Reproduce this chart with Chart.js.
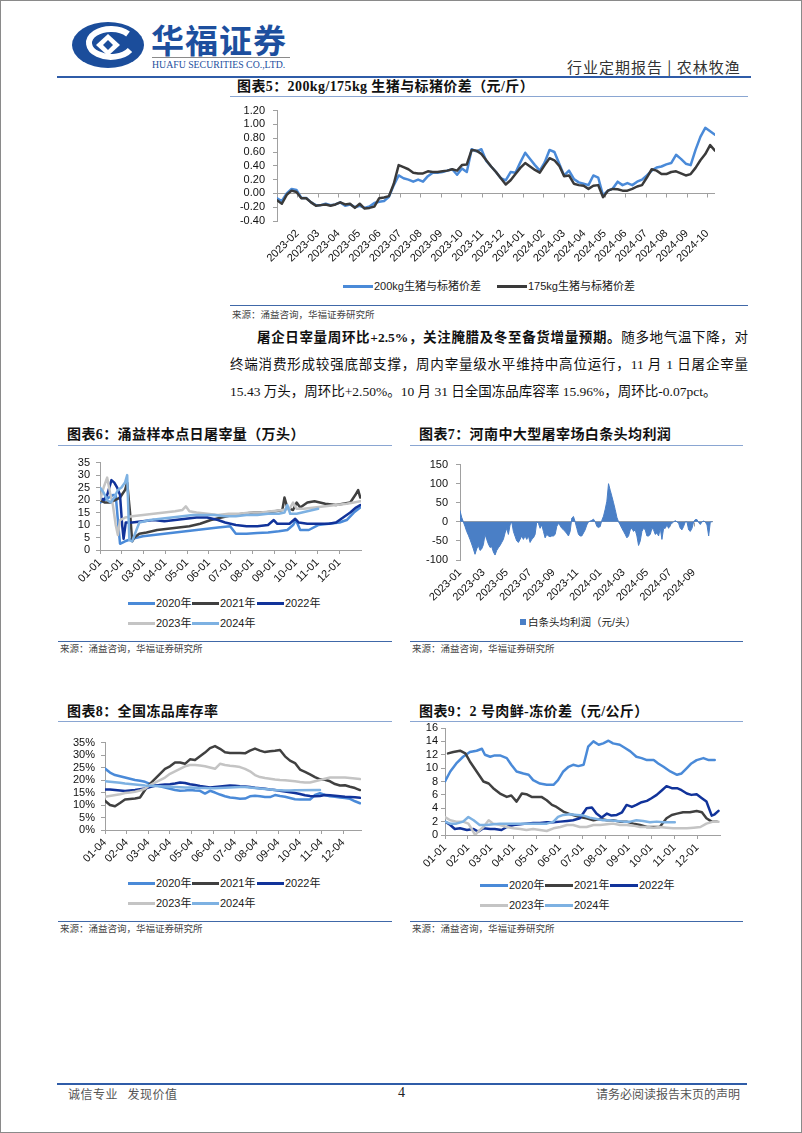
<!DOCTYPE html>
<html lang="zh-CN"><head><meta charset="utf-8"><title>农林牧渔</title>
<script src="https://cdn.jsdelivr.net/npm/chart.js@4.4.1/dist/chart.umd.min.js"></script>
<style>
html,body{margin:0;padding:0;background:#fff}
body{position:relative;width:802px;height:1133px;overflow:hidden;font-family:"Liberation Serif","Noto Sans CJK SC",serif;color:#111}
.a{position:absolute;white-space:nowrap}
.hl{position:absolute;height:0}
.ttl{position:absolute;white-space:nowrap;font-weight:700;font-size:14px;line-height:20px;letter-spacing:0.4px;color:#111}
.src{position:absolute;white-space:nowrap;font-family:"Noto Sans CJK SC",sans-serif;font-size:9.5px;line-height:12px;color:#444}
.lgl{position:absolute;height:3px}
.lgt{position:absolute;white-space:nowrap;font-family:"Liberation Sans","Noto Sans CJK SC",sans-serif;font-size:11px;line-height:14px;color:#222}
canvas{position:absolute}
.p{position:absolute;left:230px;width:518px;white-space:nowrap;font-size:13.5px;line-height:20px;color:#111}
.j{text-align:justify;text-align-last:justify}
</style></head>
<body>
<div style="position:absolute;left:0;top:0;width:800px;height:1131px;border:1px solid #8a8a8a"></div>
<!-- header -->
<svg class="a" width="74" height="48" style="left:71px;top:21px">
 <ellipse cx="37" cy="24" rx="36" ry="23" fill="#1b4d9b"/>
 <path d="M 57 13 A 22 14 0 1 0 59 29" stroke="#fff" stroke-width="6" fill="none"/>
 <path d="M37 13 L49 24 L37 35 L25 24 Z" fill="#fff"/>
 <path d="M37 19 L42 24 L37 29 L32 24 Z" fill="#1b4d9b"/>
</svg>
<div class="a" style="left:151px;top:19px;font-family:'Noto Sans CJK SC';font-weight:700;font-size:33px;line-height:40px;letter-spacing:1px;color:#1d4f9e">华福证券</div>
<div class="hl" style="left:152px;top:57px;width:138px;border-top:1px solid #8a8a8a"></div>
<div class="a" style="left:152px;top:58px;font-family:'Liberation Serif';font-size:11px;line-height:12px;color:#1d4f9e;transform:scaleX(0.89);transform-origin:left">HUAFU SECURITIES CO.,LTD.</div>
<div class="a" style="left:567px;top:57px;font-family:'Noto Sans CJK SC';font-size:15px;line-height:20px;color:#333;letter-spacing:1px">行业定期报告&nbsp;|&nbsp;农林牧渔</div>
<div class="hl" style="left:57px;top:76px;width:694px;border-top:2px solid #2f5ca8"></div>

<!-- chart 5 -->
<div class="ttl" style="left:237px;top:77px">图表5：200kg/175kg 生猪与标猪价差（元/斤）</div>
<div class="hl" style="left:230px;top:96px;width:518px;border-top:1px solid #8aa6d2"></div>
<canvas id="c5" width="520" height="175" style="left:230px;top:96px"></canvas>
<div class="lgl" style="left:343px;top:285px;width:30px;background:#4a8ad8"></div>
<div class="lgt" style="left:374px;top:279px">200kg生猪与标猪价差</div>
<div class="lgl" style="left:497px;top:285px;width:30px;background:#3a3a3a"></div>
<div class="lgt" style="left:528px;top:279px">175kg生猪与标猪价差</div>
<div class="hl" style="left:230px;top:305px;width:518px;border-top:1px solid #4068a8"></div>
<div class="src" style="left:232px;top:308px">来源：涌益咨询，华福证券研究所</div>

<!-- paragraph -->
<div class="p j" style="top:328px;padding-left:27px;width:491px"><b>屠企日宰量周环比+2.5%，关注腌腊及冬至备货增量预期。</b>随多地气温下降，对</div>
<div class="p j" style="top:355px">终端消费形成较强底部支撑，周内宰量级水平维持中高位运行，11 月 1 日屠企宰量</div>
<div class="p" style="top:382px">15.43 万头，周环比+2.50%。10 月 31 日全国冻品库容率 15.96%，周环比-0.07pct。</div>

<!-- chart 6 -->
<div class="ttl" style="left:67px;top:425px">图表6：涌益样本点日屠宰量（万头）</div>
<div class="hl" style="left:58px;top:445px;width:334px;border-top:1px solid #8aa6d2"></div>
<canvas id="c6" width="340" height="145" style="left:40px;top:450px"></canvas>
<div id="lg6"></div>
<!-- chart 7 -->
<div class="ttl" style="left:419px;top:425px">图表7：河南中大型屠宰场白条头均利润</div>
<div class="hl" style="left:410px;top:445px;width:333px;border-top:1px solid #8aa6d2"></div>
<canvas id="c7" width="330" height="155" style="left:410px;top:450px"></canvas>
<div class="a" style="left:520px;top:619px;width:6px;height:6px;background:#4a7fc6"></div>
<div class="lgt" style="left:528px;top:615px;font-size:10.5px">白条头均利润（元/头）</div>
<div class="hl" style="left:58px;top:641px;width:334px;border-top:1px solid #4068a8"></div>
<div class="hl" style="left:410px;top:641px;width:333px;border-top:1px solid #4068a8"></div>
<div class="src" style="left:60px;top:642px">来源：涌益咨询，华福证券研究所</div>
<div class="src" style="left:412px;top:642px">来源：涌益咨询，华福证券研究所</div>

<!-- chart 8 -->
<div class="ttl" style="left:67px;top:702px">图表8：全国冻品库存率</div>
<div class="hl" style="left:58px;top:721px;width:334px;border-top:1px solid #8aa6d2"></div>
<canvas id="c8" width="340" height="140" style="left:40px;top:730px"></canvas>
<div id="lg8"></div>
<!-- chart 9 -->
<div class="ttl" style="left:419px;top:702px">图表9：2 号肉鲜-冻价差（元/公斤）</div>
<div class="hl" style="left:410px;top:721px;width:333px;border-top:1px solid #8aa6d2"></div>
<canvas id="c9" width="330" height="150" style="left:410px;top:718px"></canvas>
<div id="lg9"></div>
<div class="hl" style="left:58px;top:921px;width:334px;border-top:1px solid #4068a8"></div>
<div class="hl" style="left:410px;top:921px;width:333px;border-top:1px solid #4068a8"></div>
<div class="src" style="left:60px;top:922px">来源：涌益咨询，华福证券研究所</div>
<div class="src" style="left:412px;top:922px">来源：涌益咨询，华福证券研究所</div>

<!-- footer -->
<div class="hl" style="left:57px;top:1083px;width:690px;border-top:2px solid #2f5ca8"></div>
<div class="a" style="left:68px;top:1086px;font-family:'Noto Sans CJK SC';font-size:12px;line-height:16px;color:#555;letter-spacing:0.5px">诚信专业&nbsp;&nbsp;&nbsp;发现价值</div>
<div class="a" style="left:398px;top:1085px;font-family:'Liberation Serif';font-size:14px;line-height:16px;color:#222">4</div>
<div class="a" style="left:596px;top:1086px;font-family:'Noto Sans CJK SC';font-size:12px;line-height:16px;color:#555">请务必阅读报告末页的声明</div>

<script>
// ---------------- data ----------------
// Chart 5: weekly spreads (元/斤)
const months5 = ['2023-02','2023-03','2023-04','2023-05','2023-06','2023-07','2023-08','2023-09','2023-10','2023-11','2023-12','2024-01','2024-02','2024-03','2024-04','2024-05','2024-06','2024-07','2024-08','2024-09','2024-10'];
const spread200 = [-0.07,-0.11,0.0,0.065,0.05,-0.065,-0.065,-0.13,-0.17,-0.17,-0.15,-0.17,-0.16,-0.13,-0.18,-0.16,-0.2,-0.18,-0.21,-0.19,-0.14,-0.12,-0.11,-0.05,0.12,0.26,0.22,0.2,0.17,0.2,0.17,0.25,0.3,0.3,0.31,0.33,0.35,0.27,0.36,0.31,0.64,0.61,0.64,0.47,0.39,0.31,0.22,0.19,0.31,0.3,0.45,0.59,0.5,0.41,0.33,0.45,0.63,0.6,0.43,0.26,0.33,0.21,0.16,0.14,0.12,0.26,0.23,-0.03,0.04,0.07,0.17,0.12,0.15,0.12,0.17,0.2,0.26,0.33,0.375,0.39,0.42,0.44,0.56,0.5,0.43,0.41,0.63,0.82,0.95,0.9,0.85];
const spread175 = [-0.1,-0.15,-0.02,0.04,0.02,-0.07,-0.07,-0.13,-0.18,-0.17,-0.16,-0.18,-0.16,-0.13,-0.16,-0.15,-0.21,-0.15,-0.22,-0.21,-0.19,-0.07,-0.06,-0.04,0.14,0.41,0.38,0.35,0.3,0.29,0.29,0.32,0.31,0.31,0.32,0.33,0.35,0.33,0.41,0.42,0.63,0.62,0.57,0.48,0.39,0.31,0.22,0.13,0.19,0.28,0.37,0.44,0.39,0.34,0.3,0.41,0.51,0.48,0.4,0.25,0.26,0.14,0.12,0.11,0.065,0.11,0.12,-0.055,0.04,0.065,0.06,0.04,0.04,0.065,0.1,0.12,0.23,0.35,0.33,0.28,0.28,0.31,0.32,0.29,0.26,0.28,0.37,0.48,0.57,0.7,0.62];

// Chart 6: daily slaughter (万头), day-of-year / value
const monthDays = ['01-01','02-01','03-01','04-01','05-01','06-01','07-01','08-01','09-01','10-01','11-01','12-01'];
const days20 = [0,6,12,18,22,25,28,35,45,60,75,90,105,120,135,150,165,182,190,205,220,235,250,262,270,274,280,292,305,320,335,345,355,364];
const slaughter20 = [19,20,21,22,22,12,2.5,3.5,4.5,5.5,6,6.5,7,7.5,8,8.5,9,9.5,6.5,6.5,6.8,7,7.5,8,10,12,8,8,10,10.5,11,12,15,17];
const days21 = [0,7,14,21,28,35,38,42,45,48,55,65,80,95,110,125,140,155,170,185,200,215,230,245,255,258,262,270,275,280,290,300,315,330,340,350,357,361,364];
const slaughter21 = [20,19,19,20,21,24,27,15,3.5,5,6.5,7,8,8.5,9,9.5,10.5,12,13,14,14.5,15,15,15.5,16,21,17,16,19,17,19,19.5,18.5,18,18.5,19,22,24,21];
const days22 = [0,5,10,16,20,24,28,31,33,36,45,60,75,90,105,120,135,150,165,175,190,205,220,235,243,248,255,265,273,278,290,305,320,330,340,350,358,364];
const slaughter22 = [21,20,22,28,27,25,22,10,4.5,11,11,11.5,12,11.5,12,12.5,13,13,12,11,10,9.5,9.5,10,12,10.5,10.5,10.5,12.5,11,10.5,10.5,10.5,11,13,15,17,18];
const days23 = [0,5,10,14,18,22,25,28,35,45,60,75,90,105,115,120,125,135,150,165,180,195,210,225,240,255,265,270,275,285,300,315,330,345,355,364];
const slaughter23 = [20,25,29,23,18,10,6,12,13,13.5,14,14.5,15,15.5,16,17.5,15.5,15,14.5,14,14.5,14.5,15,15,15.5,16,16.5,19,16.5,16.5,17,17.5,18,18.5,19,19.5];
const days24 = [0,5,10,15,20,25,30,35,38,41,45,55,70,85,100,115,130,145,160,175,190,205,220,235,250,258,262,266,275,290,305];
const slaughter24 = [25,23,20,19,21,24,25,27,30,4,3.5,11,12,12.5,13,13.5,14,14,14,13.5,13.5,14,14,14.5,14.5,15,18,14.5,14.5,15.5,16.5];

// Chart 7: profit per head (元/头), one value per 1/7 month from 2023-01
const months7 = ['2023-01','2023-03','2023-05','2023-07','2023-09','2023-11','2024-01','2024-03','2024-05','2024-07','2024-09'];
const profit = [29,12,0,-12,-25,-35,-46,-58,-71,-85,
 -71,-62,-75,-71,-60,-33,-46,-58,-67,-65,
 -79,-87,-75,-68,-62,-54,-46,-29,-17,-33,
 -8,0,-25,-38,-50,-54,-46,-37,-46,-37,
 -46,-37,-54,-46,-42,-33,0,-4,-17,-8,
 -25,-42,-33,-37,-39,-37,-37,-33,-12,-4,
 -10,-17,-21,-25,-31,-37,-25,10,14,0,
 -17,-33,-37,-37,-29,-21,-8,0,2,4,
 7,0,-12,-15,-12,4,15,33,54,100,
 83,67,50,32,12,0,-8,-17,-25,-33,
 -42,-37,-21,-17,-25,-21,-37,-62,-50,-25,
 -17,-21,-37,-37,-33,-17,-21,-33,-29,-37,
 -17,-46,-17,-17,-8,-17,-8,-4,0,3,
 0,-4,-17,-21,-12,0,0,-21,-25,-17,
 0,6,6,-2,-7,0,2,0,-8,-37,
 0,0];

// Chart 8: weekly frozen inventory rate (%)
const months8 = ['01-04','02-04','03-04','04-04','05-04','06-04','07-04','08-04','09-04','10-04','11-04','12-04'];
const inv2020 = [24.6,23,22,21.5,21,20.5,20,19.7,19.3,18.5,18,17.5,17,16.5,16,15.7,15.8,16,15.8,15.7,14.6,15.7,15,14.2,13.5,13,12.8,12.5,12.6,13.5,13.7,13.5,13.2,13.2,14,13.6,13.3,12.8,12.3,12.2,12.2,12.2,14,14.7,14,13.5,13.3,13,12.8,12.5,11.5,10.7];
const inv2021 = [11.7,10,9.5,10.8,12.2,12.4,12.6,13,16,18.5,20.5,22.5,24.5,25.5,27,27,26.5,28.3,28,29.5,31,32.8,33.6,32.5,31.1,30.8,30.8,30.8,30.7,31.8,32.6,31.8,31.2,31.5,31.7,32,29.5,27.8,26.8,24.2,23.3,22.3,21.2,20.3,20.1,19.5,18.4,17.8,17.9,17.3,16.8,16];
const inv2022 = [16.2,16.2,16,15.8,15.6,15.8,16,16.3,16.6,17.2,17.7,18,18.2,18.3,18.6,19,18.8,18.3,18,17.6,17.3,17,17.2,17.4,17.6,17.8,17.7,17.5,17.4,17.2,16.9,16.7,16.5,16.2,16,15.7,15.4,15.1,14.8,14.4,13.9,13.6,13.5,13.6,14,13.9,13.7,13.5,13.3,13.2,13.1,12.9];
const inv2023 = [13.3,null,null,14.3,14.8,15,15.3,15.8,16.5,18,19,20,21,22.5,23.5,24.5,25.5,26,26,25.8,25.5,25,24.5,26.5,26,25.7,25.5,25.2,24.5,23.5,22,21.2,20.8,20.5,20.2,20,19.9,19.7,19.5,19.2,19,19,19.5,20,20.5,21,21,21,21,20.8,20.6,20.4];
const inv2024 = [19.5,19.3,19.1,18.9,18.6,18.4,18.2,18,17.8,17.7,17.6,17.5,17.4,17.3,17.2,17.1,17,17,16.9,16.8,16.8,16.7,16.7,16.8,16.9,17,17.1,17.2,17.2,17,16.8,16.6,16.4,16.2,16,15.9,15.8,15.8,15.9,null,null,null,null,16.0];

// Chart 9: fresh-frozen spread (元/公斤), day-of-year / value
const d9_2020 = [0,7,15,24,33,42,49,53,60,66,73,82,88,95,104,111,117,126,135,144,150,157,164,170,177,184,190,197,204,210,217,223,232,239,246,254,261,268,277,283,290,299,308,314,321,327,334,343,350,358];
const v9_2020 = [8,9.5,10.7,11.7,12.4,12.6,12.9,12,11.7,11.9,11.9,11.5,10.5,9.5,9.2,9,8.2,7.7,7.5,7.5,8.2,9.5,10.2,10.5,10.3,10.5,13.2,14,13.5,13.7,14.1,13.7,13.5,13,12.5,11.7,11.5,11.2,11.2,10.7,10.2,9.5,9,9.2,10,10.7,11.2,11.5,11.2,11.2];
const d9_2021 = [4,11,20,27,33,42,51,58,64,73,82,88,95,102,108,115,122,128,135,142,148,157,164,170,179,188,197,206,215,223,232,241,250,259,268,277,285,294,301,308,316,325,334,341,347,354,361];
const v9_2021 = [12.2,12.4,12.6,12.2,11,9.5,8,7.7,7,6.2,5.7,5.9,5,6.2,6.1,5.7,5.7,5.7,5.2,4.5,4.2,3.5,3.2,3,2.7,2.5,2.2,2.4,2.2,2.2,2,2,1.7,1.5,1.2,1.2,1.2,2.5,3,3.2,3.4,3.4,3.6,3.4,2.5,2,2];
const d9_2022 = [0,7,13,20,29,38,44,51,60,66,75,82,91,100,108,117,126,135,144,153,162,170,179,188,195,201,208,215,221,228,235,241,248,254,261,268,274,281,288,294,301,308,314,321,327,334,341,347,354,358,363];
const v9_2022 = [2,1.5,0.9,1,0.75,0.9,0.5,1,0.9,0.9,0.75,1.2,1.5,1.6,1.7,1.8,1.8,1.9,1.9,2,2.1,2.2,2.5,4,4.1,3.2,2.6,3.2,2.9,3,3.4,4.5,4.2,4.5,4.9,5.1,5.5,6,6.7,7.3,7,7,6.7,6.2,6,6.1,5.5,5,2.9,3.1,3.6];
const d9_2023 = [0,7,15,24,31,35,40,44,51,58,64,73,82,91,100,108,117,126,135,144,153,162,170,179,188,197,206,215,223,232,241,250,259,268,277,285,294,303,312,321,330,339,347,356,363];
const v9_2023 = [2.7,2.2,2,2,1.7,1,0,0.5,1.2,2.2,1.7,1.5,1.2,1,0.9,0.75,0.9,0.75,0.6,1,1.2,1.5,1.5,1.2,1.2,1.5,1.5,1.6,1.7,1.5,1.5,1.4,1.2,1.2,1.1,1.2,1.1,1,1,1,1.1,1.2,1.7,2,2];
const d9_2024 = [0,7,15,24,31,38,46,55,64,73,82,91,100,108,117,126,135,144,150,157,166,175,184,192,201,210,219,228,237,246,254,263,272,281,290,299,305];
const v9_2024 = [2,1.7,1.7,2,2.7,2.2,1.5,1.5,1.6,1.7,1.7,1.7,1.7,1.7,1.7,1.7,1.7,2,2.7,3,3.1,3,2.9,2.6,2.4,2.2,2.2,2.1,2,2,2.2,2.1,1.9,2,1.9,1.9,1.9];

const yearNames = ['2020年','2021年','2022年','2023年','2024年'];
const yearColors = ['#4a8ad8','#404040','#11339a','#c4c4c4','#7db1e2'];

// ---------------- helpers ----------------
Chart.defaults.font.family = '"Liberation Sans","Noto Sans CJK SC",sans-serif';
Chart.defaults.font.size = 11;
Chart.defaults.color = '#111';
const AX = '#a0a0a0';

const zeroTicks = {
  id:'zeroTicks',
  beforeDatasetsDraw(chart){
    const x = chart.scales.x, y = chart.scales.y, ctx = chart.ctx;
    const y0 = Math.round(y.getPixelForValue(0)) + 0.5;
    ctx.save(); ctx.strokeStyle = AX; ctx.lineWidth = 1; ctx.beginPath();
    x.ticks.forEach(t => { const px = Math.round(x.getPixelForValue(t.value)) + 0.5; ctx.moveTo(px, y0); ctx.lineTo(px, y0 + 4); });
    ctx.stroke(); ctx.restore();
  }
};

function yAxis(min, max, step, w, fmt, zero, pad){
  return {min, max,
    ticks:{stepSize:step, autoSkip:false, padding:pad, color:'#111', font:{size:11}, callback: fmt || (v => v)},
    border:{display:true, color:AX},
    grid:{drawOnChartArea:!!zero, drawTicks:true, tickLength:4, tickColor:AX,
      color: c => (zero && c.tick && c.tick.value === 0) ? AX : 'rgba(0,0,0,0)'},
    afterFit: s => { s.width = w; }};
}
function xAxis(min, max, positions, labels, h, border){
  return {type:'linear', min, max,
    afterBuildTicks: s => { s.ticks = positions.map(v => ({value:v})); },
    ticks:{autoSkip:false, maxRotation:45, minRotation:45, padding:2, color:'#111', font:{size:11},
      callback: (v, i) => labels[i]},
    border:{display:border, color:AX},
    grid:{display:border, drawOnChartArea:false, drawTicks:true, tickLength:4, tickColor:AX},
    afterFit: s => { s.height = h; }};
}
const pts = (xs, ys) => ys.map((v, i) => ({x: xs[i], y: v}));
const idx = ys => ys.map((v, i) => ({x: i, y: v}));
const base = (padding) => ({responsive:false, animation:false, devicePixelRatio:1,
  layout:{padding}, plugins:{legend:{display:false}, tooltip:{enabled:false}},
  elements:{point:{radius:0}, line:{tension:0, borderJoinStyle:'round', borderCapStyle:'round'}}});
function lineDs(data, color, w, order){
  return {data, borderColor:color, backgroundColor:color, borderWidth:w, fill:false, spanGaps:true, order,
    segment:{borderDash: c => (c.p1DataIndex - c.p0DataIndex > 1) ? [5,4] : undefined}};
}
function legend(el, rows, y0, dy, xs, lw){
  let html = '';
  rows.forEach((row, r) => row.forEach((k, j) => {
    const y = y0 + r * dy;
    html += `<div class="lgl" style="left:${xs[j]}px;top:${y - 1.5}px;width:${lw}px;background:${yearColors[k]}"></div>`;
    html += `<div class="lgt" style="left:${xs[j] + lw + 1}px;top:${y - 7}px">${yearNames[k]}</div>`;
  }));
  document.getElementById(el).innerHTML = html;
}

// ---------------- chart 5 ----------------
const pos5 = months5.map((m, k) => 4.2 + 4.21 * k);
new Chart(document.getElementById('c5'), {type:'line',
  data:{datasets:[
    lineDs(idx(spread175), '#3a3a3a', 2.5, 0),
    lineDs(idx(spread200), '#4a8ad8', 2.5, 1)]},
  options:Object.assign(base({left:0, top:10, right:35, bottom:0}), {
    scales:{x:xAxis(0, 90, pos5, months5, 50, false),
            y:yAxis(-0.4, 1.2, 0.2, 47, v => v.toFixed(2), true, 8)}}),
  plugins:[zeroTicks]});

// ---------------- chart 6 ----------------
const pos12 = monthDays.map((m, k) => k * 30.42);
const d6 = [[days20, slaughter20],[days21, slaughter21],[days22, slaughter22],[days23, slaughter23],[days24, slaughter24]];
new Chart(document.getElementById('c6'), {type:'line',
  data:{datasets: d6.map((s, i) => lineDs(pts(s[0], s[1]), yearColors[i], 2.5, 5 - i))},
  options:Object.assign(base({left:0, top:11.7, right:19, bottom:0}), {
    scales:{x:xAxis(0, 365, pos12, monthDays, 45, true),
            y:yAxis(0, 35, 5, 60, null, false, 6)}})});
legend('lg6', [[0,1,2],[3,4]], 603, 20, [128,192,257], 27);

// ---------------- chart 7 ----------------
const pos7 = months7.map((m, k) => k * 14);
new Chart(document.getElementById('c7'), {type:'line',
  data:{datasets:[{data:idx(profit), borderColor:'#4a7fc6', backgroundColor:'#4a7fc6', borderWidth:1, fill:'origin'}]},
  options:Object.assign(base({left:0, top:10, right:27, bottom:0}), {
    scales:{x:xAxis(0, 151.6, pos7, months7, 45, false),
            y:yAxis(-100, 150, 50, 50, null, true, 8)}}),
  plugins:[zeroTicks]});

// ---------------- chart 8 ----------------
const pos8 = months8.map((m, k) => k * 4.33);
const d8 = [inv2020, inv2021, inv2022, inv2023, inv2024];
new Chart(document.getElementById('c8'), {type:'line',
  data:{datasets: d8.map((s, i) => lineDs(idx(s), yearColors[i], 2.5, 5 - i))},
  options:Object.assign(base({left:0, top:10.5, right:19, bottom:0}), {
    scales:{x:xAxis(0, 51.2, pos8, months8, 40, true),
            y:yAxis(0, 35, 5, 65, v => v + '%', false, 6)}})});
legend('lg8', [[0,1,2],[3,4]], 883, 20, [128,192,257], 27);

// ---------------- chart 9 ----------------
const d9 = [[d9_2020, v9_2020],[d9_2021, v9_2021],[d9_2022, v9_2022],[d9_2023, v9_2023],[d9_2024, v9_2024]];
new Chart(document.getElementById('c9'), {type:'line',
  data:{datasets: d9.map((s, i) => lineDs(pts(s[0], s[1]), yearColors[i], 2.5, 5 - i))},
  options:Object.assign(base({left:0, top:10, right:20, bottom:0}), {
    scales:{x:xAxis(0, 365, pos12, monthDays, 33, true),
            y:yAxis(0, 16, 2, 35, null, false, 3)}})});
legend('lg9', [[0,1,2],[3,4]], 885, 20, [480,545,610], 28);
</script>
</body></html>
